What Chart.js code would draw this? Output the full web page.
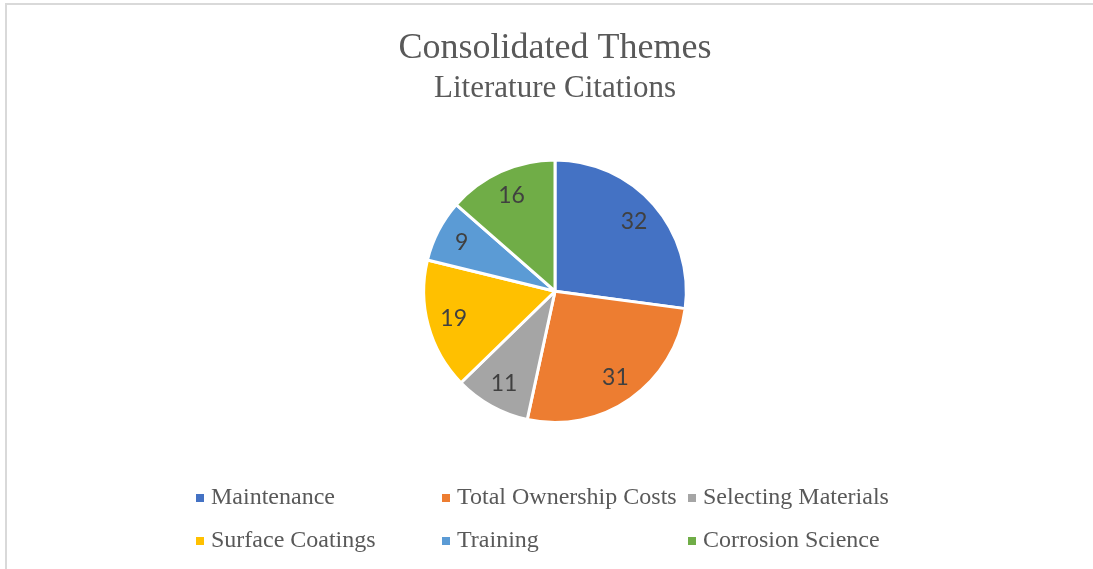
<!DOCTYPE html>
<html>
<head>
<meta charset="utf-8">
<title>Consolidated Themes</title>
<script src="https://cdn.jsdelivr.net/npm/chart.js@4/dist/chart.umd.min.js"></script>
<style>
    html, body {
        margin: 0;
        padding: 0;
        background: #ffffff;
        overflow: hidden;
    }

    .frame {
        position: absolute;
        left: 5px;
        top: 3px;
        width: 1100px;
        height: 580px;
        border-left: 2px solid #d9d9d9;
        border-top: 2px solid #d9d9d9;
        pointer-events: none;
    }

    .chart-box {
        position: absolute;
        left: 0;
        top: 0;
        width: 1093px;
        height: 569px;
    }
</style>
</head>
<body>
<div class="chart-box">
    <canvas id="themes-chart"></canvas>
</div>
<div class="frame"></div>

<script>
const themeLabels = [
    'Maintenance',
    'Total Ownership Costs',
    'Selecting Materials',
    'Surface Coatings',
    'Training',
    'Corrosion Science',
];

const citationCounts = [32, 31, 11, 19, 9, 16];

const themeColors = ['#4472C4', '#ED7D31', '#A5A5A5', '#FFC000', '#5B9BD5', '#70AD47'];

// value labels inside each slice, roughly where Excel puts them
const sliceLabels = {
    id: 'sliceLabels',
    afterDatasetsDraw(chart) {
        const { ctx } = chart;
        const meta = chart.getDatasetMeta(0);
        const values = chart.data.datasets[0].data;

        ctx.save();
        ctx.font = '23px Lato, "Open Sans", sans-serif';
        ctx.fillStyle = '#404040';
        ctx.textAlign = 'center';
        ctx.textBaseline = 'middle';

        meta.data.forEach((arc, index) => {
            const mid = (arc.startAngle + arc.endAngle) / 2;
            const dist = arc.outerRadius * 0.8;
            const x = arc.x + Math.cos(mid) * dist;
            const y = arc.y + Math.sin(mid) * dist;
            ctx.fillText(`${values[index]}`, x, y);
        });

        ctx.restore();
    },
};

// three-column legend grid under the pie
const gridLegend = {
    id: 'gridLegend',
    afterDraw(chart) {
        const { ctx, chartArea } = chart;
        const labels = chart.data.labels;
        const colors = chart.data.datasets[0].backgroundColor;
        const columns = 3;
        const columnWidth = 246;
        const rowHeight = 43;
        const centerX = (chartArea.left + chartArea.right) / 2;
        const startX = centerX - 359;
        const startY = chartArea.bottom + 74;

        ctx.save();
        ctx.font = '24px "Liberation Serif", "Times New Roman", serif';
        ctx.textBaseline = 'middle';
        ctx.textAlign = 'left';

        labels.forEach((label, index) => {
            const col = index % columns;
            const row = Math.floor(index / columns);
            const x = startX + col * columnWidth;
            const y = startY + row * rowHeight;

            ctx.fillStyle = colors[index];
            ctx.fillRect(x, y - 4, 8, 8);

            ctx.fillStyle = '#595959';
            ctx.fillText(label, x + 15, y);
        });

        ctx.restore();
    },
};

document.addEventListener('DOMContentLoaded', () => {
    const canvas = document.getElementById('themes-chart');
    const context = canvas.getContext('2d');

    new Chart(context, {
        type: 'pie',
        data: {
            labels: themeLabels,
            datasets: [
                {
                    data: citationCounts,
                    backgroundColor: themeColors,
                    borderColor: '#ffffff',
                    borderWidth: 3,
                    hoverOffset: 0,
                },
            ],
        },
        options: {
            responsive: true,
            maintainAspectRatio: false,
            animation: false,
            layout: {
                padding: {
                    top: 0,
                    left: 17,
                    right: 0,
                    bottom: 145,
                },
            },
            plugins: {
                legend: false,
                tooltip: false,
                title: {
                    display: true,
                    text: 'Consolidated Themes',
                    color: '#595959',
                    font: {
                        family: '"Liberation Serif", "Times New Roman", serif',
                        size: 36,
                        weight: 'normal',
                        lineHeight: 1.2,
                    },
                    padding: {
                        top: 27,
                        bottom: 0,
                    },
                },
                subtitle: {
                    display: true,
                    text: 'Literature Citations',
                    color: '#595959',
                    font: {
                        family: '"Liberation Serif", "Times New Roman", serif',
                        size: 31,
                        weight: 'normal',
                        lineHeight: 1.2,
                    },
                    padding: {
                        top: 0,
                        bottom: 51,
                    },
                },
            },
        },
        plugins: [sliceLabels, gridLegend],
    });
});
</script>
</body>
</html>
